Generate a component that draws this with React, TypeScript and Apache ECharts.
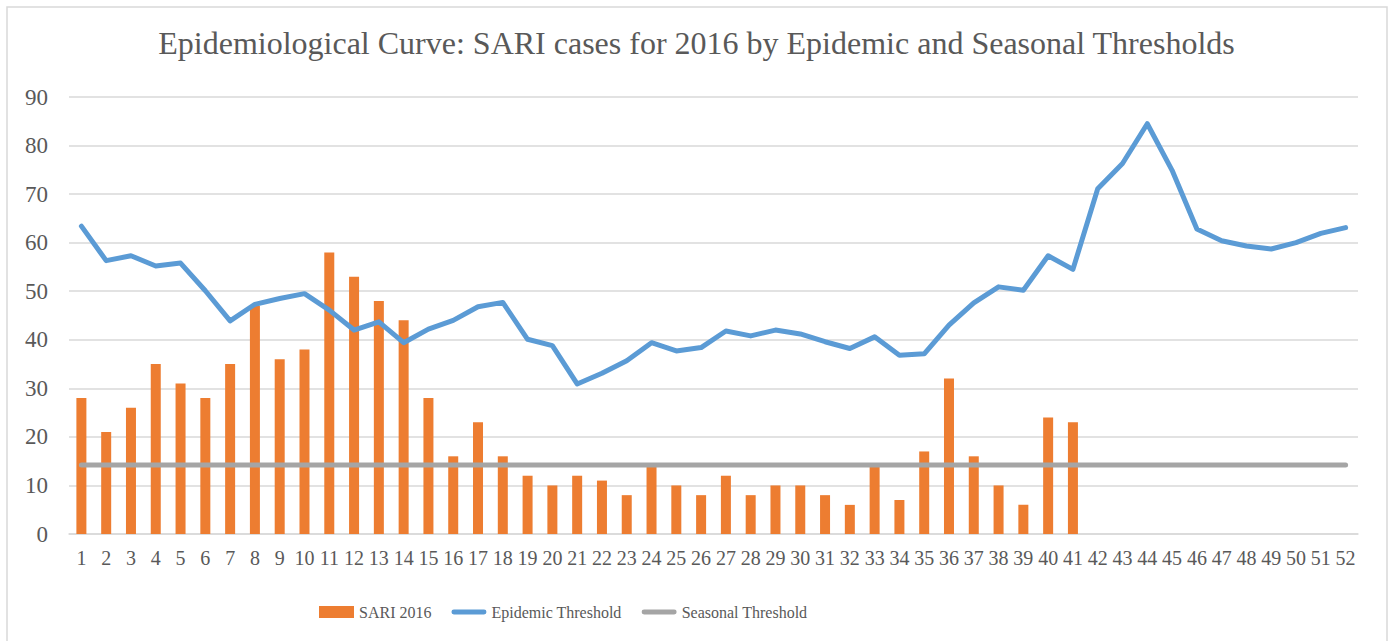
import React, { useEffect, useRef } from "react";
import * as echarts from "echarts";

const weeks = Array.from({ length: 52 }, (_, i) => String(i + 1));

const sari2016 = [
  28, 21, 26, 35, 31, 28, 35, 47, 36, 38, 58, 53, 48, 44, 28, 16, 23, 16, 12, 10,
  12, 11, 8, 14, 10, 8, 12, 8, 10, 10, 8, 6, 14, 7, 17, 32, 16, 10, 6, 24, 23,
];

const epidemicThreshold = [
  63.4, 56.3, 57.3, 55.2, 55.8, 50.1, 43.9, 47.3, 48.5, 49.5, 46.1, 42.0, 43.7, 39.4,
  42.2, 44.0, 46.8, 47.7, 40.1, 38.8, 30.9, 33.1, 35.7, 39.4, 37.7, 38.4, 41.8, 40.8,
  42.0, 41.2, 39.6, 38.2, 40.6, 36.8, 37.1, 43.0, 47.6, 50.9, 50.2, 57.3, 54.5, 71.1,
  76.3, 84.5, 74.9, 62.8, 60.4, 59.3, 58.7, 60.0, 61.9, 63.1,
];

const seasonalThreshold = weeks.map(() => 14.2);

const yTicks = { min: 0, max: 90, interval: 10 };

const FONT = "'Liberation Serif', 'Times New Roman', serif";
const TEXT = "#595959";
const LINE_ICON = "path://M2.5,0 H33.5 A2.5,2.5 0 0 1 33.5,5 H2.5 A2.5,2.5 0 0 1 2.5,0 Z";

export default function App() {
  const ref = useRef<HTMLDivElement>(null);
  useEffect(() => {
    if (!ref.current) return;
    const chart = echarts.init(ref.current, undefined, { renderer: "svg" });
    chart.setOption({
      animation: false,
      backgroundColor: "#ffffff",
      textStyle: { fontFamily: FONT, color: TEXT },
      title: {
        text: "Epidemiological Curve: SARI cases for 2016 by Epidemic and Seasonal Thresholds",
        left: "center",
        top: 22,
        textStyle: { fontFamily: FONT, fontSize: 32, fontWeight: "normal", color: TEXT },
      },
      graphic: [
        {
          type: "rect",
          shape: { x: 7, y: 7, width: 1380, height: 650 },
          style: { fill: "none", stroke: "#d9d9d9", lineWidth: 1.5 },
          silent: true,
          z: -1,
        },
      ],
      legend: {
        left: 314,
        top: 599,
        itemGap: 20,
        itemWidth: 35,
        itemHeight: 12,
        symbolKeepAspect: true,
        textStyle: { fontFamily: FONT, fontSize: 16, color: TEXT },
        data: [
          { name: "SARI 2016", icon: "rect" },
          { name: "Epidemic Threshold", icon: LINE_ICON },
          { name: "Seasonal Threshold", icon: LINE_ICON },
        ],
      },
      grid: { left: 69, right: 35, top: 97, bottom: 107, containLabel: false },
      xAxis: {
        type: "category",
        data: weeks,
        axisLine: { show: true, lineStyle: { color: "#d9d9d9", width: 1.5 } },
        axisTick: { show: false },
        axisLabel: { interval: 0, fontFamily: FONT, fontSize: 20, color: TEXT, margin: 14 },
      },
      yAxis: {
        type: "value",
        min: yTicks.min,
        max: yTicks.max,
        interval: yTicks.interval,
        axisLine: { show: false },
        axisTick: { show: false },
        axisLabel: { fontFamily: FONT, fontSize: 23, color: TEXT, margin: 21 },
        splitLine: { lineStyle: { color: "#d9d9d9", width: 1.5 } },
      },
      series: [
        {
          name: "SARI 2016",
          type: "bar",
          data: sari2016,
          barWidth: 10,
          itemStyle: { color: "#ED7D31" },
        },
        {
          name: "Epidemic Threshold",
          type: "line",
          data: epidemicThreshold,
          symbol: "none",
          lineStyle: { color: "#5B9BD5", width: 5, cap: "round", join: "round" },
          itemStyle: { color: "#5B9BD5" },
        },
        {
          name: "Seasonal Threshold",
          type: "line",
          data: seasonalThreshold,
          symbol: "none",
          lineStyle: { color: "#A5A5A5", width: 5, cap: "round", join: "round" },
          itemStyle: { color: "#A5A5A5" },
        },
      ],
    });
    return () => chart.dispose();
  }, []);
  return (
    <div
      ref={ref}
      style={{ position: "fixed", left: 0, top: 0, width: 1393, height: 641 }}
    />
  );
}
